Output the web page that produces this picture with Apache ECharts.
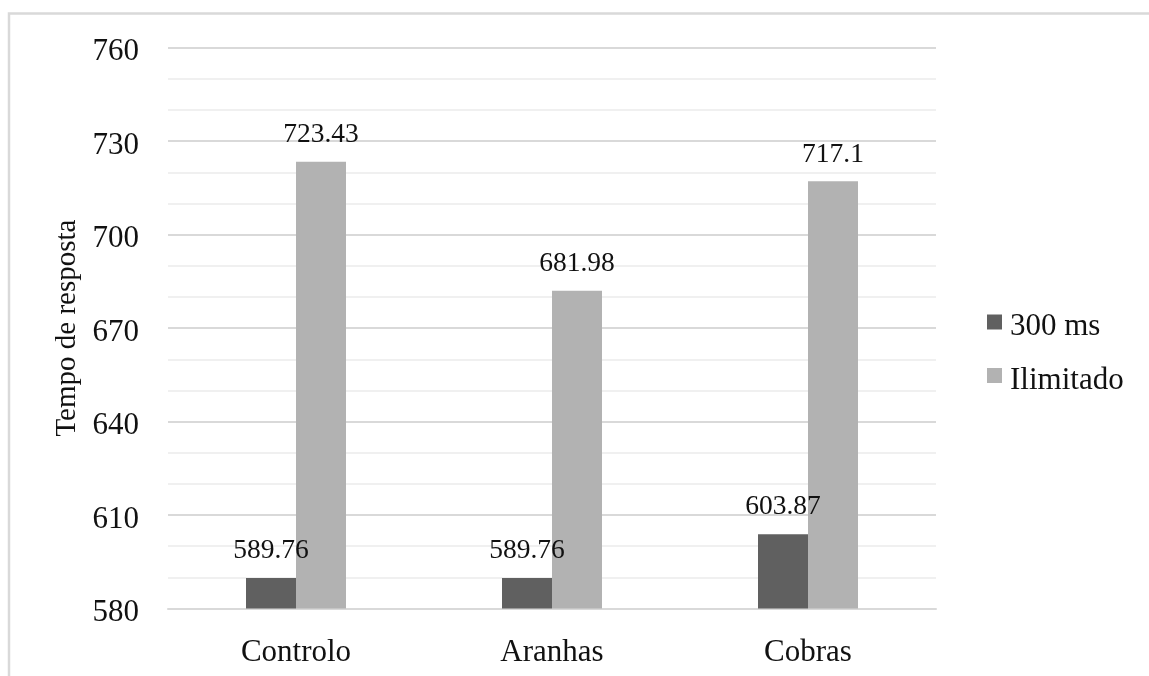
<!DOCTYPE html>
<html>
<head>
<meta charset="utf-8">
<script src="https://cdn.jsdelivr.net/npm/echarts@6/dist/echarts.min.js"></script>
<style>
  html, body { margin: 0; padding: 0; background: #ffffff; }
  #chart { width: 1149px; height: 676px; }
</style>
</head>
<body>
<div id="chart"></div>
<script>
// Response time by stimulus type, for the two exposure conditions
const categories = ['Controlo', 'Aranhas', 'Cobras'];
const seriesNames = ['300 ms', 'Ilimitado'];
const values300ms = [589.76, 589.76, 603.87];
const valuesIlimitado = [723.43, 681.98, 717.1];
const yMin = 580;
const yMax = 760;
const yLabelStep = 30;

const FONT = '"Liberation Serif", "Times New Roman", serif';
const colors = ['#606060', '#b2b2b2'];

const chart = echarts.init(document.getElementById('chart'), null, { renderer: 'canvas' });

function barSeries(name, data, color) {
  return {
    name: name,
    type: 'bar',
    data: data,
    barWidth: 50,
    barGap: '0%',
    itemStyle: { color: color },
    label: {
      show: true,
      position: 'top',
      distance: 13,
      color: '#111111',
      fontFamily: FONT,
      fontSize: 27.5,
      formatter: function (p) { return String(p.value); }
    }
  };
}

chart.setOption({
  animation: false,
  backgroundColor: '#ffffff',
  color: colors,
  graphic: [{
    type: 'rect',
    shape: { x: 9, y: 13.5, width: 1300, height: 800 },
    style: { fill: 'none', stroke: '#d9d9d9', lineWidth: 2.5 },
    silent: true,
    z: 100
  }],
  grid: { left: 168, right: 213, top: 47.7, bottom: 67.5, containLabel: false },
  legend: {
    orient: 'vertical',
    left: 982,
    top: 300,
    itemWidth: 15,
    itemHeight: 15,
    itemGap: 16,
    icon: 'rect',
    data: seriesNames,
    // a short spacer line above each name sets the text a little below its swatch
    formatter: function (name) { return '{s| }\n{t|' + name + '}'; },
    textStyle: {
      fontFamily: FONT,
      fontSize: 31,
      color: '#111111',
      rich: {
        s: { fontSize: 4, lineHeight: 10 },
        t: { fontFamily: FONT, fontSize: 31, lineHeight: 30, color: '#111111', padding: [0, 0, 0, 3] }
      }
    }
  },
  xAxis: {
    type: 'category',
    data: categories,
    axisLine: { show: true, lineStyle: { color: '#d9d9d9', width: 2 } },
    axisTick: { show: false },
    axisLabel: {
      margin: 29,
      fontFamily: FONT,
      fontSize: 31,
      color: '#111111'
    },
    splitLine: { show: false }
  },
  yAxis: {
    type: 'value',
    min: yMin,
    max: yMax,
    interval: 10,
    name: 'Tempo de resposta',
    nameLocation: 'middle',
    nameGap: 86,
    nameTextStyle: { fontFamily: FONT, fontSize: 29, color: '#111111' },
    axisLine: { show: false },
    axisTick: { show: false },
    axisLabel: {
      margin: 29,
      fontFamily: FONT,
      fontSize: 31,
      color: '#111111',
      verticalAlign: 'top',
      lineHeight: 9,
      formatter: function (v) {
        return ((v - yMin) % yLabelStep === 0) ? String(v) : '';
      }
    },
    splitLine: {
      show: true,
      lineStyle: { color: ['#d9d9d9', '#f0f0f0', '#f0f0f0'], width: 2 }
    }
  },
  series: [
    barSeries(seriesNames[0], values300ms, colors[0]),
    barSeries(seriesNames[1], valuesIlimitado, colors[1])
  ]
});
</script>
</body>
</html>
